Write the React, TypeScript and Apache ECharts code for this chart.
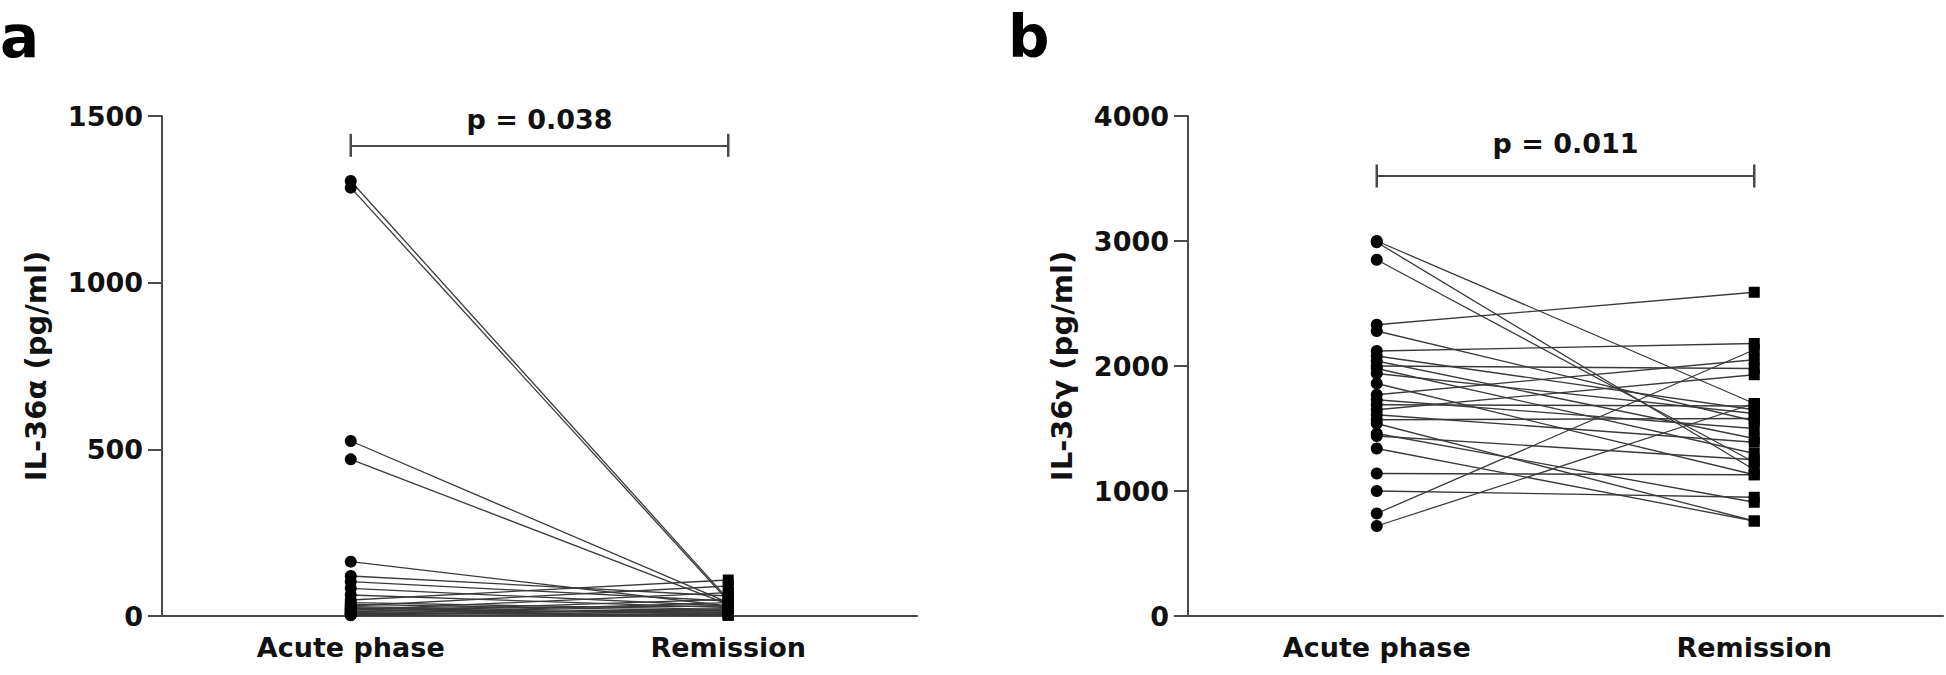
import React, { useEffect, useRef } from "react";
import * as echarts from "echarts";

const categories = ["Acute phase", "Remission"];

// Panel a: IL-36α (pg/ml)
const aAcute = [1305, 1285, 525, 470, 163, 120, 103, 83, 63, 48, 40, 35, 30, 28, 25, 22, 20, 18, 15, 12, 10, 8, 6, 5, 3, 2];
const aRemission = [50, 45, 40, 35, 30, 60, 45, 30, 25, 108, 20, 15, 90, 10, 5, 30, 8, 70, 12, 50, 5, 3, 18, 40, 2, 22];

// Panel b: IL-36γ (pg/ml)
const bAcute = [3000, 2990, 2850, 2330, 2280, 2120, 2080, 2040, 2000, 1980, 1940, 1860, 1770, 1730, 1690, 1650, 1610, 1570, 1540, 1460, 1440, 1340, 1140, 1000, 820, 720];
const bRemission = [1700, 1170, 1230, 2590, 1560, 2180, 1650, 1420, 1980, 1300, 1620, 1130, 2050, 1500, 1680, 1930, 1390, 1580, 760, 910, 1250, 760, 1130, 950, 2130, 1700];

const yNames = ["IL-36α (pg/ml)", "IL-36γ (pg/ml)"];
const yMax = [1500, 4000];
const yStep = [500, 1000];
const pLabels = ["p = 0.038", "p = 0.011"];
const bracketLevels = [1412, 3520];
const pLabelGaps = [12, 19];
const panelLetters = ["a", "b"];

const FONT = "DejaVu Sans";
const AXIS_COLOR = "#4a4a4a";
const LINE_COLOR = "#3a3a3a";

export default function App() {
  const ref = useRef<HTMLDivElement>(null);

  useEffect(() => {
    if (!ref.current) return;
    const chart = echarts.init(ref.current, undefined, { renderer: "svg" });

    const panels = [
      { acute: aAcute, rem: aRemission },
      { acute: bAcute, rem: bRemission },
    ];
    const gridLefts = [162, 1188];

    const grid = gridLefts.map((left) => ({ left, top: 116, width: 755, height: 500 }));

    const xAxis = panels.map((_, k) => ({
      type: "category",
      gridIndex: k,
      data: categories,
      boundaryGap: true,
      axisLine: { lineStyle: { color: AXIS_COLOR, width: 2 } },
      axisTick: { alignWithLabel: true, length: 12, lineStyle: { color: AXIS_COLOR, width: 2 } },
      axisLabel: { margin: 18, color: "#111", fontFamily: FONT, fontWeight: "bold", fontSize: 27 },
      splitLine: { show: false },
    }));

    const yAxis = panels.map((_, k) => ({
      type: "value",
      gridIndex: k,
      min: 0,
      max: yMax[k],
      interval: yStep[k],
      name: yNames[k],
      nameLocation: "middle",
      nameRotate: 90,
      nameGap: 112,
      nameTextStyle: { color: "#111", fontFamily: FONT, fontWeight: "bold", fontSize: 29 },
      axisLine: { show: true, lineStyle: { color: AXIS_COLOR, width: 2 } },
      axisTick: { show: true, length: 14, lineStyle: { color: AXIS_COLOR, width: 2 } },
      axisLabel: {
        margin: 19,
        color: "#111",
        fontFamily: FONT,
        fontWeight: "bold",
        fontSize: 27,
        formatter: (v: number) => String(v),
      },
      splitLine: { show: false },
    }));

    const series: any[] = [];
    panels.forEach((p, k) => {
      p.acute.forEach((v, i) => {
        series.push({
          type: "line",
          xAxisIndex: k,
          yAxisIndex: k,
          data: [v, p.rem[i]],
          symbol: "none",
          silent: true,
          lineStyle: { color: LINE_COLOR, width: 1.3 },
          z: 2,
        });
      });
      series.push({
        type: "scatter",
        xAxisIndex: k,
        yAxisIndex: k,
        data: p.acute.map((v) => [categories[0], v]),
        symbol: "circle",
        symbolSize: 12,
        itemStyle: { color: "#000", opacity: 1 },
        z: 3,
      });
      series.push({
        type: "scatter",
        xAxisIndex: k,
        yAxisIndex: k,
        data: p.rem.map((v) => [categories[1], v]),
        symbol: "rect",
        symbolSize: 11,
        itemStyle: { color: "#000", opacity: 1 },
        z: 3,
      });
      // significance bracket
      series.push({
        type: "scatter",
        xAxisIndex: k,
        yAxisIndex: k,
        data: [
          [categories[0], bracketLevels[k]],
          [categories[1], bracketLevels[k]],
        ],
        symbol: "rect",
        symbolSize: [2.5, 23],
        itemStyle: { color: AXIS_COLOR, opacity: 1 },
        silent: true,
        markLine: {
          silent: true,
          symbol: ["none", "none"],
          lineStyle: { color: AXIS_COLOR, width: 2, type: "solid" },
          label: {
            show: true,
            position: "middle",
            formatter: pLabels[k],
            distance: pLabelGaps[k],
            color: "#111",
            fontFamily: FONT,
            fontWeight: "bold",
            fontSize: 27,
          },
          data: [[{ coord: [categories[0], bracketLevels[k]] }, { coord: [categories[1], bracketLevels[k]] }]],
        },
      });
    });

    chart.setOption({
      animation: false,
      backgroundColor: "#fff",
      grid,
      xAxis,
      yAxis,
      series,
      graphic: panelLetters.map((t, k) => ({
        type: "text",
        left: k === 0 ? 0 : 1008,
        top: 8,
        style: { text: t, fontFamily: FONT, fontWeight: "bold", fontSize: 58, fill: "#000" },
      })),
    });

    return () => chart.dispose();
  }, []);

  return (
    <div
      ref={ref}
      style={{ position: "absolute", left: 0, top: 0, width: 1946, height: 675, background: "#fff" }}
    />
  );
}
